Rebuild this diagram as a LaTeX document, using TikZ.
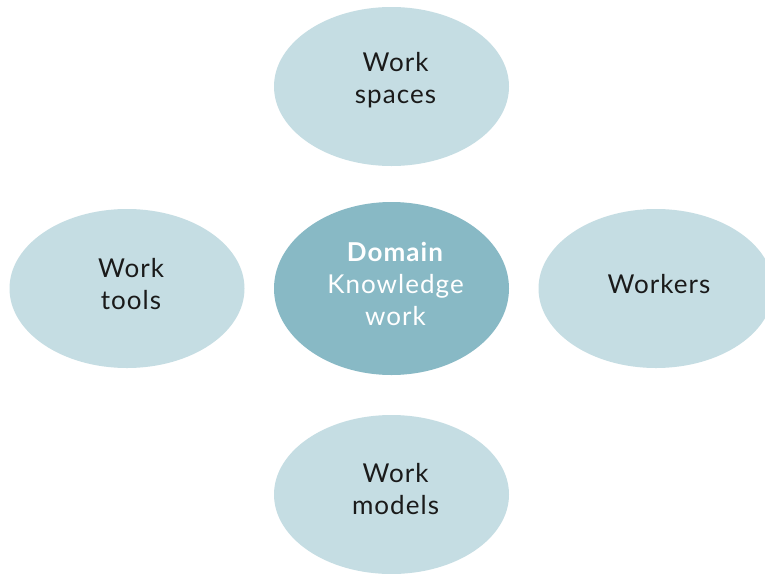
\documentclass[tikz,border=0pt]{standalone}
\usepackage{fontspec}
\setmainfont[LetterSpace=4]{Lato}
\usetikzlibrary{shapes.geometric}
\definecolor{lightblob}{HTML}{C5DDE3}
\definecolor{darkblob}{HTML}{88B9C5}
\definecolor{txt}{HTML}{1A1A1A}
\tikzset{
  blob/.style={ellipse, fill=lightblob, draw=none, minimum width=235pt, minimum height=159pt, inner sep=0pt},
  coreblob/.style={blob, fill=darkblob, minimum height=173pt},
  lbl/.style={text=txt, align=center, inner sep=0pt, font=\fontsize{26}{32}\selectfont},
  corelbl/.style={lbl, text=white}
}
\begin{document}
\begin{tikzpicture}[x=1pt,y=-1pt]
\useasboundingbox (0,0) rectangle (765,573);
\clip (0,0) rectangle (765,573);
\fill[white] (0,0) rectangle (765,573);
\node[blob] (spaces) at (391.5,86.5) {};
\node[blob] (tools) at (127,288.5) {};
\node[coreblob] (core) at (391.5,288.5) {};
\node[blob] (workers) at (656,288.5) {};
\node[blob] (models) at (391.5,494.5) {};
\node[lbl] (spacesT) at (395.5,80) {Work\\spaces};
\node[lbl] (toolsT) at (131,284) {Work\\tools};
\node[corelbl] (coreT) at (395.5,284) {\textbf{Domain}\\Knowledge\\work};
\node[lbl] (workersT) at (659,284) {Workers};
\node[lbl] (modelsT) at (395.5,489) {Work\\models};
\end{tikzpicture}
\end{document}
